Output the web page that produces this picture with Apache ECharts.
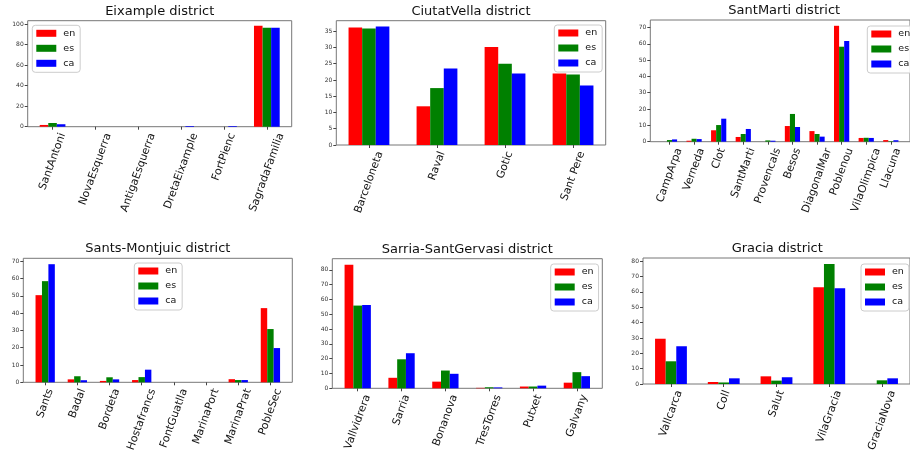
<!DOCTYPE html>
<html><head><meta charset="utf-8">
<script src="https://cdn.jsdelivr.net/npm/echarts@6/dist/echarts.min.js"></script>
<style>html,body{margin:0;padding:0;background:#fff}#c{width:910px;height:456px}</style>
</head><body><div id="c"></div>
<script>
const seriesNames = ['en', 'es', 'ca'];
const seriesColors = ['#ff0000', '#008000', '#0000ff'];

const eixampleCats = ['SantAntoni', 'NovaEsquerra', 'AntigaEsquerra', 'DretaEixample', 'FortPienc', 'SagradaFamilia'];
const eixampleEn = [1.7, 0, 0, 0, 0, 98.4];
const eixampleEs = [3.6, 0, 0, 0, 0, 96.4];
const eixampleCa = [2.4, 0, 0, 0.7, 0.7, 96.4];
const eixampleTicks = [0, 20, 40, 60, 80, 100];

const ciutatCats = ['Barceloneta', 'Raval', 'Gotic', 'Sant Pere'];
const ciutatEn = [36.1, 11.9, 30.1, 22.0];
const ciutatEs = [35.8, 17.5, 25.0, 21.7];
const ciutatCa = [36.4, 23.5, 22.0, 18.3];
const ciutatTicks = [0, 5, 10, 15, 20, 25, 30, 35];

const santMartiCats = ['CampArpa', 'Verneda', 'Clot', 'SantMarti', 'Provencals', 'Besos', 'DiagonalMar', 'Poblenou', 'VilaOlimpica', 'Llacuna'];
const santMartiEn = [0, 0.6, 7.0, 2.9, 0, 9.6, 6.5, 71.0, 2.3, 1.0];
const santMartiEs = [1.0, 1.8, 10.2, 4.7, 0.8, 17.0, 4.7, 58.2, 2.4, 0.3];
const santMartiCa = [1.4, 1.6, 14.1, 7.8, 0.6, 9.0, 3.1, 61.7, 2.3, 0.9];
const santMartiTicks = [0, 10, 20, 30, 40, 50, 60, 70];

const santsCats = ['Sants', 'Badal', 'Bordeta', 'Hostafrancs', 'FontGuatlla', 'MarinaPort', 'MarinaPrat', 'PobleSec'];
const santsEn = [50.4, 1.7, 0.8, 1.3, 0, 0, 1.8, 42.9];
const santsEs = [58.5, 3.5, 2.9, 3.0, 0, 0, 1.3, 30.8];
const santsCa = [68.3, 1.2, 1.7, 7.3, 0, 0, 1.3, 19.8];
const santsTicks = [0, 10, 20, 30, 40, 50, 60, 70];

const sarriaCats = ['Vallvidrera', 'Sarria', 'Bonanova', 'TresTorres', 'Putxet', 'Galvany'];
const sarriaEn = [83.4, 7.1, 4.5, 0.3, 1.2, 3.8];
const sarriaEs = [55.9, 19.6, 12.0, 0.7, 1.2, 10.9];
const sarriaCa = [56.3, 23.7, 9.8, 0.6, 1.8, 8.2];
const sarriaTicks = [0, 10, 20, 30, 40, 50, 60, 70, 80];

const graciaCats = ['Vallcarca', 'Coll', 'Salut', 'VilaGracia', 'GraciaNova'];
const graciaEn = [29.5, 1.3, 5.0, 63.0, 0];
const graciaEs = [14.8, 1.0, 2.2, 78.2, 2.4];
const graciaCa = [24.6, 3.7, 4.4, 62.4, 3.7];
const graciaTicks = [0, 10, 20, 30, 40, 50, 60, 70, 80];

const FONT = '"DejaVu Sans", sans-serif';
// layout: frame [left, top, right, bottom], legend box [left, top]
const panels = [
  {title: 'Eixample district', cats: eixampleCats, vals: [eixampleEn, eixampleEs, eixampleCa], ticks: eixampleTicks, frame: [27.7, 20.7, 291.7, 126.7], legend: [32.3, 25.3]},
  {title: 'CiutatVella district', cats: ciutatCats, vals: [ciutatEn, ciutatEs, ciutatCa], ticks: ciutatTicks, frame: [336.3, 20.7, 605.7, 145], legend: [554.3, 25]},
  {title: 'SantMarti district', cats: santMartiCats, vals: [santMartiEn, santMartiEs, santMartiCa], ticks: santMartiTicks, frame: [650.3, 20, 918.2, 141.7], legend: [867.3, 26]},
  {title: 'Sants-Montjuic district', cats: santsCats, vals: [santsEn, santsEs, santsCa], ticks: santsTicks, frame: [23.3, 258.3, 292.3, 382.3], legend: [134.3, 263]},
  {title: 'Sarria-SantGervasi district', cats: sarriaCats, vals: [sarriaEn, sarriaEs, sarriaCa], ticks: sarriaTicks, frame: [332.3, 258.7, 602.3, 388.3], legend: [550.7, 264]},
  {title: 'Gracia district', cats: graciaCats, vals: [graciaEn, graciaEs, graciaCa], ticks: graciaTicks, frame: [643, 258, 911.5, 384], legend: [861, 264]}
];

const ctx = document.createElement('canvas').getContext('2d');
const LABEL_SIZE = 10.8;
ctx.font = LABEL_SIZE + 'px "DejaVu Sans"';
const S70 = Math.sin(70 * Math.PI / 180), C70 = Math.cos(70 * Math.PI / 180);
const LABEL_MARGIN = 2, LABEL_PAD = 5, LABEL_H = LABEL_SIZE;

const option = {animation: false, backgroundColor: '#fff', title: [], grid: [], xAxis: [], yAxis: [], legend: [], series: []};

panels.forEach((p, k) => {
  const [L, T, R, B] = p.frame;
  const n = p.cats.length;
  const m = 0.05 * (n - 0.4);
  const xmin = -0.3 - m, xmax = n - 0.7 + m;
  const pxPerUnit = (R - L) / (xmax - xmin);
  const barW = pxPerUnit * 0.2;
  const allVals = [].concat(...p.vals);
  const ymax = Math.max(...allVals) * 1.05;
  const idx = p.cats.map((c, i) => i);
  const rich = {};
  p.cats.forEach((c, i) => {
    const Lw = ctx.measureText(c).width;
    const bboxH = Lw * S70 + LABEL_H * C70;
    const D = LABEL_PAD + bboxH / 2 - LABEL_MARGIN;
    rich['r' + i] = {fontSize: LABEL_SIZE, fontFamily: FONT, color: '#111', padding: [2 * D * C70, 2 * D * S70, 0, 0]};
  });
  option.title.push({text: p.title, left: (L + R) / 2, top: T - 16, textAlign: 'center', padding: 0,
    textStyle: {fontSize: 13, fontWeight: 'normal', fontFamily: FONT, color: '#111'}});
  option.grid.push({left: L, top: T, width: R - L, height: B - T, show: true, borderColor: '#777', borderWidth: 1, backgroundColor: 'transparent'});
  option.xAxis.push({type: 'value', gridIndex: k, min: xmin, max: xmax, position: 'bottom',
    axisLine: {show: false, onZero: false}, splitLine: {show: false},
    axisTick: {show: true, customValues: idx, length: 3, lineStyle: {color: '#444'}},
    axisLabel: {customValues: idx, rotate: 70, align: 'center', verticalAlign: 'middle', margin: LABEL_MARGIN,
      fontSize: LABEL_SIZE, fontFamily: FONT, color: '#111',
      formatter: (v) => { const i = Math.round(v); return '{r' + i + '|' + p.cats[i] + '}'; }, rich: rich}});
  option.yAxis.push({type: 'value', gridIndex: k, min: 0, max: ymax, position: 'left',
    axisLine: {show: false, onZero: false}, splitLine: {show: false},
    axisTick: {show: true, customValues: p.ticks, length: 3, lineStyle: {color: '#444'}},
    axisLabel: {customValues: p.ticks, fontSize: 6, fontFamily: FONT, color: '#333', margin: 4}});
  option.legend.push({orient: 'vertical', left: p.legend[0], top: p.legend[1], data: seriesNames, icon: 'rect',
    itemWidth: 20, itemHeight: 7, itemGap: 5, padding: [3, 5, 4, 4], selectedMode: false,
    borderColor: '#ccc', borderWidth: 1, borderRadius: 3, backgroundColor: 'rgba(255,255,255,0.85)',
    textStyle: {fontSize: 9.5, fontFamily: FONT, color: '#111', padding: [0, 0, 0, 2]}});
  p.vals.forEach((arr, s) => {
    option.series.push({type: 'bar', name: seriesNames[s], xAxisIndex: k, yAxisIndex: k,
      data: arr.map((v, i) => [i, v]), barWidth: barW, barGap: '0%',
      itemStyle: {color: seriesColors[s]}, silent: true});
  });
});

const chart = echarts.init(document.getElementById('c'), null, {renderer: 'canvas'});
chart.setOption(option);
</script>
</body></html>
